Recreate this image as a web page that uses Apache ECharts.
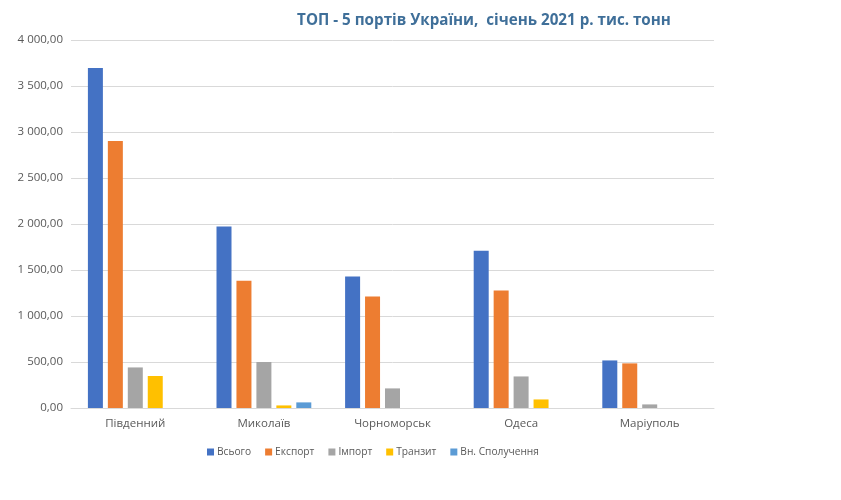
<!DOCTYPE html>
<html><head><meta charset="utf-8">
<script src="https://cdn.jsdelivr.net/npm/echarts@6/dist/echarts.min.js"></script>
<style>html,body{margin:0;padding:0;background:#fff}#c{width:841px;height:500px}</style>
</head><body><div id="c"></div>
<script>
const categories = ['Південний', 'Миколаїв', 'Чорноморськ', 'Одеса', 'Маріуполь'];
const seriesNames = ['Всього', 'Експорт', 'Імпорт', 'Транзит', 'Вн. Сполучення'];
const vsogo = [3696, 1974, 1430, 1710, 517];
const eksport = [2902, 1384, 1213, 1278, 485];
const import_ = [441, 500, 213, 343, 39];
const tranzyt = [348, 28, 0, 93, 0];
const vnSpol = [0, 61, 0, 0, 0];
const colors = ['#4472C4', '#ED7D31', '#A5A5A5', '#FFC000', '#5B9BD5'];

function fmt(v){
  const s = v.toFixed(2).split('.');
  return s[0].replace(/\B(?=(\d{3})+(?!\d))/g, ' ') + ',' + s[1];
}
const data = [vsogo, eksport, import_, tranzyt, vnSpol];
const chart = echarts.init(document.getElementById('c'));
chart.setOption({
  animation: false,
  color: colors,
  title: {
    text: 'ТОП - 5 портів України,  січень 2021 р. тис. тонн',
    left: 479, top: 8, textAlign: 'center',
    textStyle: {fontFamily: 'Open Sans', fontWeight: 'bold', fontSize: 15.2, color: '#3F6F99'}
  },
  legend: {
    left: 202, top: 442, itemWidth: 7, itemHeight: 7, itemGap: 14,
    icon: 'rect',
    textStyle: {fontFamily: 'Open Sans', fontSize: 10.2, color: '#595959', padding: [0,0,0,-2]},
    data: seriesNames
  },
  grid: {left: 71, right: 127, top: 40, bottom: 92},
  xAxis: {
    type: 'category', data: categories,
    axisLine: {lineStyle: {color: '#D9D9D9'}},
    axisTick: {show: false},
    axisLabel: {color: '#595959', fontFamily: 'Open Sans', fontSize: 11.5, margin: 10}
  },
  yAxis: {
    type: 'value', min: 0, max: 4000, interval: 500,
    axisLine: {show: false}, axisTick: {show: false},
    splitLine: {lineStyle: {color: '#D9D9D9'}},
    axisLabel: {color: '#595959', fontFamily: 'Open Sans', fontSize: 11.5, margin: 8, formatter: fmt}
  },
  series: seriesNames.map((n, i) => ({
    name: n, type: 'bar', data: data[i], barWidth: 15, barGap: '33%'
  }))
});
</script></body></html>
